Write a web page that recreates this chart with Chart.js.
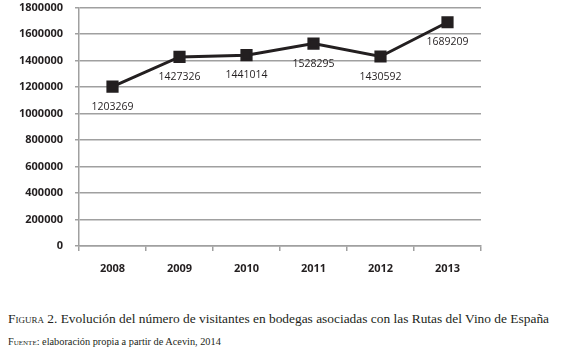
<!DOCTYPE html>
<html><head><meta charset="utf-8">
<script src="https://cdn.jsdelivr.net/npm/chart.js@4"></script>
<style>
html,body{margin:0;padding:0;background:#fff;width:580px;height:352px;overflow:hidden}
#wrap{position:absolute;left:0;top:-11px;width:580px;height:302px}
.cap{position:absolute;left:8px;font-family:"Liberation Serif","DejaVu Serif",serif;color:#231f20;white-space:nowrap}
#c1{top:311px;font-size:13.4px}
#c2{top:336px;font-size:10.3px}
.sc{font-variant:small-caps}
</style></head><body>
<div id="wrap"><canvas id="ch"></canvas></div>
<div class="cap" id="c1"><span class="sc">Figura</span> 2. Evolución del número de visitantes en bodegas asociadas con las Rutas del Vino de España</div>
<div class="cap" id="c2"><span class="sc">Fuente</span>: elaboración propia a partir de Acevin, 2014</div>
<script>
const years = ["2008","2009","2010","2011","2012","2013"];
const visitors = [1203269,1427326,1441014,1528295,1430592,1689209];
const yTicks = [0,200000,400000,600000,800000,1000000,1200000,1400000,1600000,1800000];

const labelPlugin = {
  id:'valLabels',
  afterDatasetsDraw(chart){
    const ctx = chart.ctx;
    const meta = chart.getDatasetMeta(0);
    ctx.save();
    ctx.font = '10.5px "Open Sans"';
    ctx.fillStyle = '#231f20';
    ctx.textAlign = 'center';
    ctx.textBaseline = 'middle';
    meta.data.forEach((p,i)=>{
      ctx.fillText(String(visitors[i]), p.x, p.y + 20);
    });
    ctx.restore();
  }
};

new Chart(document.getElementById('ch'),{
  type:'line',
  data:{labels:years,datasets:[{
    data:visitors,
    borderColor:'#231f20',borderWidth:3,
    pointStyle:'rect',pointRadius:6.5,pointBackgroundColor:'#231f20',pointBorderColor:'#231f20',
    tension:0
  }]},
  options:{
    responsive:true,maintainAspectRatio:false,animation:false,
    layout:{padding:{top:2,right:99,left:0,bottom:0}},
    plugins:{legend:{display:false},tooltip:{enabled:false}},
    scales:{
      x:{
        offset:true,
        grid:{display:true,drawOnChartArea:false,drawTicks:true,tickLength:5,color:'#a0a0a0',lineWidth:1.5,offset:true},
        border:{color:'#a0a0a0',width:1.5},
        ticks:{color:'#231f20',font:{family:'"Open Sans"',size:11,weight:'bold'},padding:11},
        afterFit(s){s.height=45;}
      },
      y:{
        min:0,max:1800000,
        afterBuildTicks(s){s.ticks=yTicks.map(v=>({value:v}));},
        grid:{color:'#a0a0a0',lineWidth:1.5,tickLength:4},
        border:{color:'#a0a0a0',width:1.5},
        ticks:{color:'#231f20',font:{family:'"Open Sans"',size:11,weight:'bold'},padding:12,callback:v=>String(v)},
        afterFit(s){s.width=79;}
      }
    }
  },
  plugins:[labelPlugin]
});
</script>
</body></html>
